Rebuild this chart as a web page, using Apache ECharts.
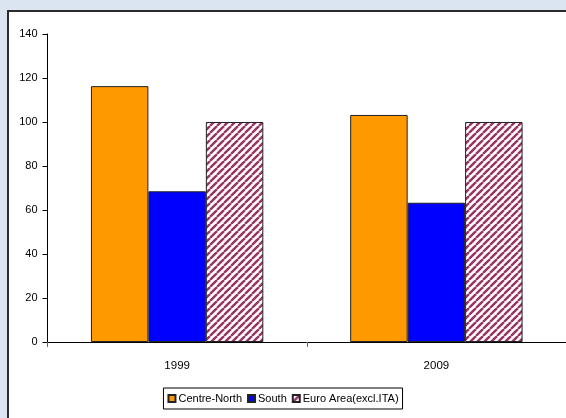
<!DOCTYPE html>
<html><head><meta charset="utf-8">
<script src="https://cdn.jsdelivr.net/npm/echarts@6/dist/echarts.min.js"></script>
<style>html,body{margin:0;padding:0;background:#dbe5f1;}#c{width:566px;height:418px;}</style>
</head><body><div id="c"></div>
<script>
const categories = ['1999', '2009'];
const centreNorth = [116.3, 103.2];
const south = [68.5, 63.3];
const euroArea = [100, 100];
const seriesNames = ['Centre-North', 'South', 'Euro Area(excl.ITA)'];

function hatch() {
  const s = 7;
  const c = document.createElement('canvas');
  c.width = s; c.height = s;
  const g = c.getContext('2d');
  g.fillStyle = '#ffffff'; g.fillRect(0, 0, s, s);
  g.strokeStyle = '#993366'; g.lineWidth = 2.4;
  for (let k = -1; k <= 1; k++) {
    g.beginPath();
    g.moveTo(k * s, s); g.lineTo(k * s + s, 0);
    g.stroke();
  }
  return c;
}
const pat = { image: hatch(), repeat: 'repeat' };

const chart = echarts.init(document.getElementById('c'), null, { renderer: 'canvas' });
const font = '"Liberation Sans", Arial, sans-serif';
chart.setOption({
  animation: false,
  backgroundColor: 'transparent',
  graphic: [{
    type: 'rect', z: -10, silent: true,
    shape: { x: 8, y: 11, width: 620, height: 460 },
    style: { fill: '#ffffff', stroke: '#2b2b2b', lineWidth: 2 }
  }],
  grid: { left: 47.5, top: 34, width: 520, bottom: 76 },
  legend: {
    left: 'center', top: 388,
    data: seriesNames,
    icon: 'rect',
    backgroundColor: '#fff', borderColor: '#000', borderWidth: 1,
    padding: [5, 4], itemWidth: 7, itemHeight: 7, itemGap: 5,
    textStyle: { fontFamily: font, fontSize: 11, color: '#000', padding: [0, 0, 0, -2] }
  },
  xAxis: {
    type: 'category', data: categories,
    axisLine: { lineStyle: { color: '#000', width: 1 } },
    axisTick: { show: true, length: 5, inside: false, lineStyle: { color: '#666' } },
    axisLabel: { color: '#000', fontFamily: font, fontSize: 11.5, margin: 18 }
  },
  yAxis: {
    type: 'value', min: 0, max: 140, interval: 20,
    splitLine: { show: false },
    axisLine: { show: true, lineStyle: { color: '#000', width: 1 } },
    axisTick: { show: true, length: 5, lineStyle: { color: '#000' } },
    axisLabel: { color: '#000', fontFamily: font, fontSize: 11, margin: 10 }
  },
  series: [
    { name: seriesNames[0], type: 'bar', data: centreNorth, barGap: '0%', barCategoryGap: '33.5%',
      itemStyle: { color: '#FF9900', borderColor: '#222', borderWidth: 1 } },
    { name: seriesNames[1], type: 'bar', data: south, barGap: '0%', barCategoryGap: '33.5%',
      itemStyle: { color: '#0000FF', borderColor: '#222', borderWidth: 1 } },
    { name: seriesNames[2], type: 'bar', data: euroArea, barGap: '0%', barCategoryGap: '33.5%',
      itemStyle: { color: pat, borderColor: '#222', borderWidth: 1 } }
  ]
});
</script></body></html>
